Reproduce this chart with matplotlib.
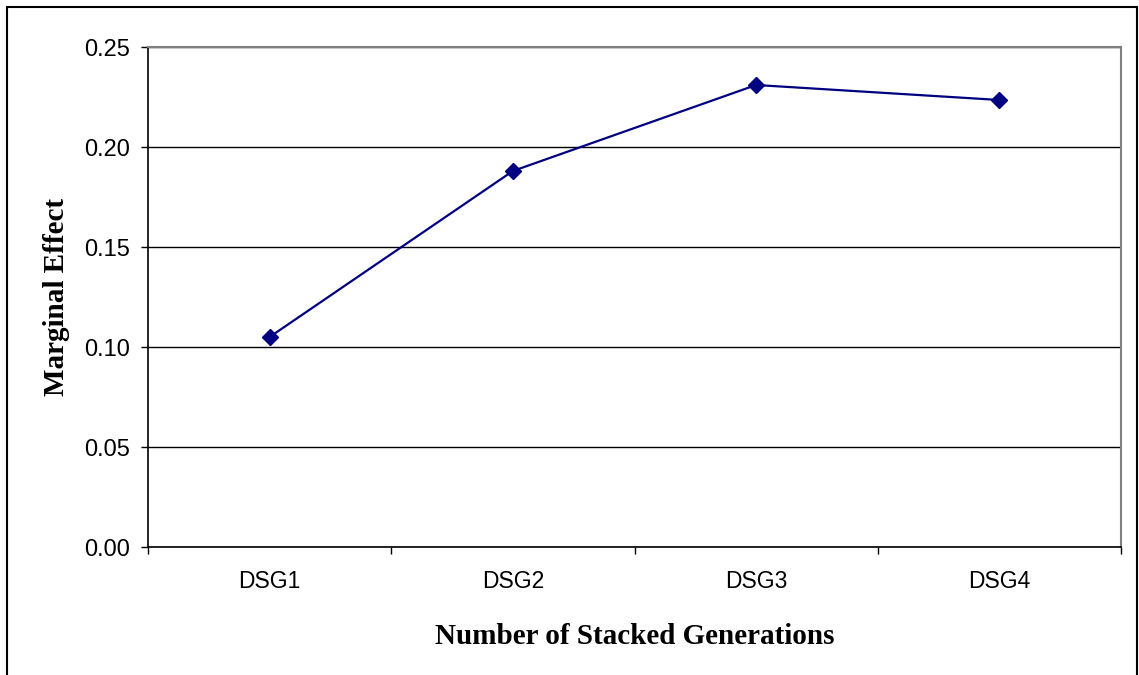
import matplotlib.pyplot as plt
from matplotlib.patches import Rectangle

# Marginal effect by number of stacked generations
categories = ["DSG1", "DSG2", "DSG3", "DSG4"]
marginal_effect = [0.105, 0.188, 0.231, 0.2235]
y_ticks = [0.00, 0.05, 0.10, 0.15, 0.20, 0.25]

W, H = 1139, 675
fig = plt.figure(figsize=(W / 100, H / 100), dpi=100)
ax = fig.add_axes([148 / W, 1 - 547 / H, (1121 - 148) / W, (547 - 47) / H])

x = range(len(categories))
ax.plot(x, marginal_effect, color="#000080", lw=1.6, marker="D",
        markersize=8.5, markerfacecolor="#000080", markeredgecolor="#000080",
        zorder=3)

ax.set_xlim(-0.5, len(categories) - 0.5)
ax.set_ylim(0, 0.25)

# horizontal gridlines
ax.set_yticks(y_ticks)
ax.set_yticklabels([f"{v:.2f}" for v in y_ticks],
                   fontfamily="Liberation Sans", fontsize=17)
ax.yaxis.grid(True, color="black", lw=1)
ax.set_axisbelow(True)

# category labels centred, tick marks on the category boundaries
ax.set_xticks(list(x))
ax.set_xticklabels(categories, fontfamily="Liberation Sans", fontsize=16.5)
ax.tick_params(axis="x", length=0, pad=16.5)
ax.set_xticks([i - 0.5 for i in range(len(categories) + 1)], minor=True)
ax.tick_params(axis="x", which="minor", length=5, width=1, direction="out")
ax.tick_params(axis="y", length=5, width=1, direction="out", pad=8)

for side in ["top", "right"]:
    ax.spines[side].set_color("#808080")
    ax.spines[side].set_linewidth(1.5)
for side in ["left", "bottom"]:
    ax.spines[side].set_color("black")
    ax.spines[side].set_linewidth(1.2)

ax.set_xlabel("Number of Stacked Generations", fontfamily="Liberation Serif",
              fontweight="bold", fontsize=21, labelpad=22)
ax.set_ylabel("Marginal Effect", fontfamily="Liberation Serif",
              fontweight="bold", fontsize=21, labelpad=10)

# chart-area frame
fig.patches.append(Rectangle((7 / W, -0.01), (1137 - 7) / W, 1 - 7 / H + 0.01,
                             transform=fig.transFigure, fill=False,
                             edgecolor="black", lw=1.5))

fig.savefig("out.png", dpi=100)
